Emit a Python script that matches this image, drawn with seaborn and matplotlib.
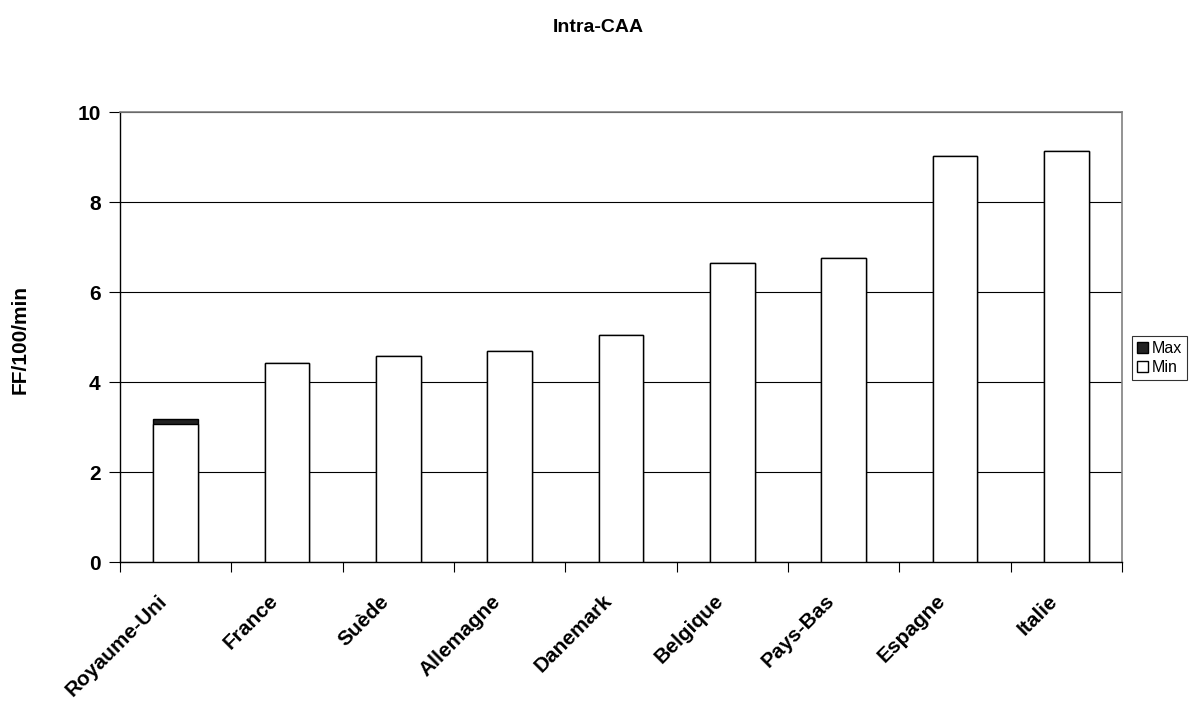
import matplotlib
matplotlib.use("Agg")
import matplotlib.pyplot as plt
import matplotlib.transforms as mtransforms
import seaborn as sns
import pandas as pd
from matplotlib.patches import Patch

countries = ["Royaume-Uni", "France", "Suède", "Allemagne", "Danemark",
             "Belgique", "Pays-Bas", "Espagne", "Italie"]
min_vals = [3.07, 4.42, 4.58, 4.68, 5.04, 6.65, 6.75, 9.02, 9.13]
max_extra = [0.11, 0, 0, 0, 0, 0, 0, 0, 0]
y_ticks = [0, 2, 4, 6, 8, 10]

sns.set_theme(style="white")
plt.rcParams["font.family"] = ["Liberation Sans", "DejaVu Sans"]
plt.rcParams["text.color"] = "black"
plt.rcParams["xtick.color"] = "black"
plt.rcParams["ytick.color"] = "black"
plt.rcParams["axes.labelcolor"] = "black"

df = pd.DataFrame({"pays": countries, "Min": min_vals,
                   "Total": [a + b for a, b in zip(min_vals, max_extra)]})

fig = plt.figure(figsize=(11.96, 7.04), dpi=100)
ax = fig.add_axes([120 / 1196, 1 - 562 / 704, (1122 - 120) / 1196, (562 - 112) / 704])

# Stacked bars: full height in dark (Max), then Min drawn over it in white
sns.barplot(data=df, x="pays", y="Total", color="#222222", width=0.4,
            edgecolor="black", linewidth=1.0, saturation=1, ax=ax, zorder=3)
sns.barplot(data=df, x="pays", y="Min", color="white", width=0.4,
            edgecolor="black", linewidth=1.0, saturation=1, ax=ax, zorder=4)

ax.set_xlim(-0.5, len(countries) - 0.5)
ax.set_ylim(0, 10)
ax.set_yticks(y_ticks)
ax.set_yticklabels([str(t) for t in y_ticks], fontsize=15, fontweight="bold")
ax.yaxis.grid(True, color="black", linewidth=0.8, zorder=0)
ax.set_axisbelow(True)

# Category labels centred under bars, tick marks on category boundaries
ax.set_xticks(range(len(countries)))
ax.set_xticklabels(countries, rotation=45, ha="right", va="center",
                   rotation_mode="anchor", fontsize=15, fontweight="bold")
ax.tick_params(axis="x", which="major", bottom=False, length=0, pad=26)
shift = mtransforms.ScaledTranslation(-12 / 100, 0, fig.dpi_scale_trans)
for lbl in ax.get_xticklabels():
    lbl.set_transform(lbl.get_transform() + shift)
ax.set_xticks([i - 0.5 for i in range(len(countries) + 1)], minor=True)
ax.tick_params(axis="x", which="minor", bottom=True, direction="out",
               length=7, width=0.8, color="black")
ax.tick_params(axis="y", direction="out", length=8, width=0.8, color="black",
               pad=6, left=True)

for side in ["top", "right"]:
    ax.spines[side].set_color("#808080")
    ax.spines[side].set_linewidth(1.2)
for side in ["left", "bottom"]:
    ax.spines[side].set_color("black")
    ax.spines[side].set_linewidth(1.0)

ax.set_xlabel("")
ax.set_ylabel("")
fig.text(20 / 1196, 1 - 340 / 704, "FF/100/min", rotation=90, fontsize=15,
         fontweight="bold", ha="center", va="center")
fig.text(0.5, 1 - 28 / 704, "Intra-CAA", fontsize=14, fontweight="bold",
         ha="center", va="center")

handles = [Patch(facecolor="#222222", edgecolor="black", label="Max"),
           Patch(facecolor="white", edgecolor="black", label="Min")]
leg = fig.legend(handles=handles, loc="center left",
                 bbox_to_anchor=(1132 / 1196, 1 - 358 / 704),
                 fontsize=11.5, frameon=True, fancybox=False, edgecolor="black",
                 handlelength=0.7, handleheight=0.7, handletextpad=0.25,
                 borderpad=0.3, labelspacing=0.25, borderaxespad=0)
leg.get_frame().set_linewidth(0.8)

fig.savefig("out.png", dpi=100)
